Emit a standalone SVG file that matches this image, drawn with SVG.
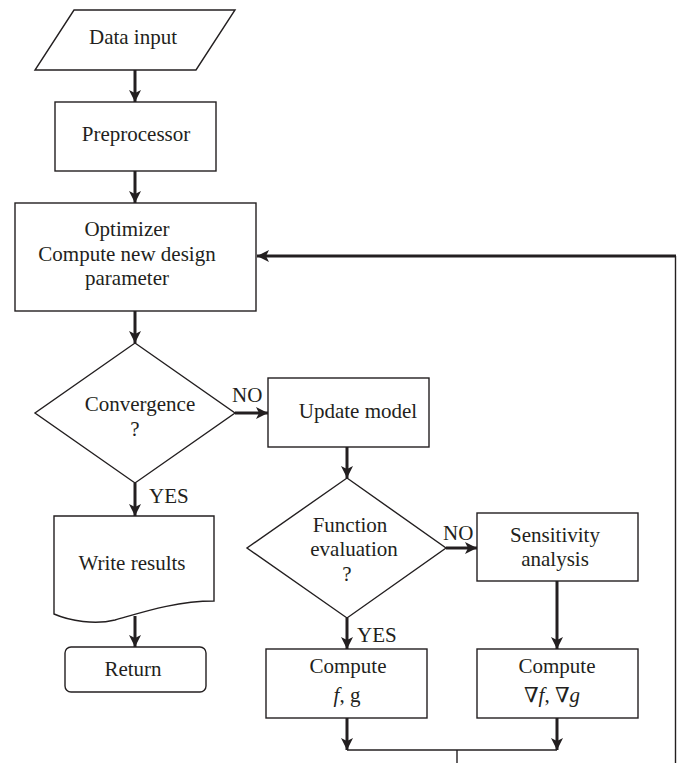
<svg xmlns="http://www.w3.org/2000/svg" width="681" height="763" viewBox="0 0 681 763">
<style>
.shape{fill:#fff;stroke:#231f20;stroke-width:1.4}
text{font-family:'Liberation Serif','DejaVu Serif',serif;font-size:21px;fill:#231f20}
.t{text-anchor:middle}
.c{fill:none;stroke:#231f20;stroke-width:3}
.thin{fill:none;stroke:#231f20;stroke-width:1.4}
.i{font-style:italic}
</style>
<defs>
<marker id="ah" markerUnits="userSpaceOnUse" viewBox="0 0 12 12" markerWidth="12" markerHeight="12" refX="12" refY="6" orient="auto">
<path d="M0,0 L12,6 L0,12 L3,6 Z" fill="#231f20"/>
</marker>
</defs>
<rect width="681" height="763" fill="#fff"/>
<g id="connectors">
<line class="c" x1="135" y1="70" x2="135" y2="102" marker-end="url(#ah)"/>
<line class="c" x1="135" y1="171" x2="135" y2="203" marker-end="url(#ah)"/>
<line class="c" x1="135" y1="311" x2="135" y2="343" marker-end="url(#ah)"/>
<line class="c" x1="235" y1="413" x2="268" y2="413" marker-end="url(#ah)"/>
<line class="c" x1="135" y1="483" x2="135" y2="516" marker-end="url(#ah)"/>
<line class="c" x1="135" y1="616" x2="135" y2="647" marker-end="url(#ah)"/>
<line class="c" x1="347" y1="447" x2="347" y2="478" marker-end="url(#ah)"/>
<line class="c" x1="446" y1="548" x2="477" y2="548" marker-end="url(#ah)"/>
<line class="c" x1="347" y1="618" x2="347" y2="649" marker-end="url(#ah)"/>
<line class="c" x1="557" y1="581" x2="557" y2="649" marker-end="url(#ah)"/>
<line class="c" x1="347" y1="718" x2="347" y2="750" marker-end="url(#ah)"/>
<line class="c" x1="557" y1="718" x2="557" y2="750" marker-end="url(#ah)"/>
<polyline class="thin" points="347,750 557,750"/>
<line class="thin" x1="457" y1="750" x2="457" y2="763"/>
<line class="thin" x1="675.5" y1="256" x2="675.5" y2="763"/>
<line class="c" x1="676" y1="256" x2="257" y2="256" marker-end="url(#ah)"/>
<text font-family="Liberation Serif, DejaVu Serif, serif" x="232" y="402">NO</text>
<text font-family="Liberation Serif, DejaVu Serif, serif" x="149" y="503">YES</text>
<text font-family="Liberation Serif, DejaVu Serif, serif" x="443" y="540">NO</text>
<text font-family="Liberation Serif, DejaVu Serif, serif" x="357" y="642">YES</text>
</g>
<g id="data-input">
<polygon class="shape" points="74,10 235,10 196,70 35,70"/>
<text class="t" x="133" y="44">Data input</text>
</g>
<g id="preprocessor">
<rect class="shape" x="55" y="102" width="161" height="69"/>
<text class="t" x="136" y="141">Preprocessor</text>
</g>
<g id="optimizer">
<rect class="shape" x="15" y="203" width="241" height="108"/>
<text class="t" x="127" y="236">Optimizer</text>
<text class="t" x="127" y="261">Compute new design</text>
<text class="t" x="127" y="285">parameter</text>
</g>
<g id="convergence">
<polygon class="shape" points="135,343 235,413 135,483 35,413"/>
<text class="t" x="140" y="411">Convergence</text>
<text class="t" x="135" y="436">?</text>
</g>
<g id="update-model">
<rect class="shape" x="268" y="378" width="161" height="69"/>
<text class="t" x="358" y="418">Update model</text>
</g>
<g id="write-results">
<path class="shape" d="M54,516 H214 V601 C175,601 140,613 115,620 C95,625 70,621 54,614 Z"/>
<text class="t" x="132" y="570">Write results</text>
</g>
<g id="return">
<rect class="shape" x="65" y="647" width="141" height="45" rx="6"/>
<text class="t" x="133" y="676">Return</text>
</g>
<g id="function-evaluation">
<polygon class="shape" points="347,478 446,548 347,618 247,548"/>
<text class="t" x="350" y="532">Function</text>
<text class="t" x="354" y="556">evaluation</text>
<text class="t" x="347" y="581">?</text>
</g>
<g id="sensitivity">
<rect class="shape" x="477" y="513" width="161" height="68"/>
<text class="t" x="555" y="542">Sensitivity</text>
<text class="t" x="555" y="566">analysis</text>
</g>
<g id="compute-fg">
<rect class="shape" x="266" y="649" width="161" height="69"/>
<text class="t" x="348" y="673">Compute</text>
<text class="t" x="347" y="702"><tspan class="i">f</tspan>, g</text>
</g>
<g id="compute-grad">
<rect class="shape" x="477" y="649" width="161" height="69"/>
<text class="t" x="557" y="673">Compute</text>
<text class="t" x="552" y="702">∇<tspan class="i">f</tspan>, ∇<tspan class="i">g</tspan></text>
</g>
</svg>
